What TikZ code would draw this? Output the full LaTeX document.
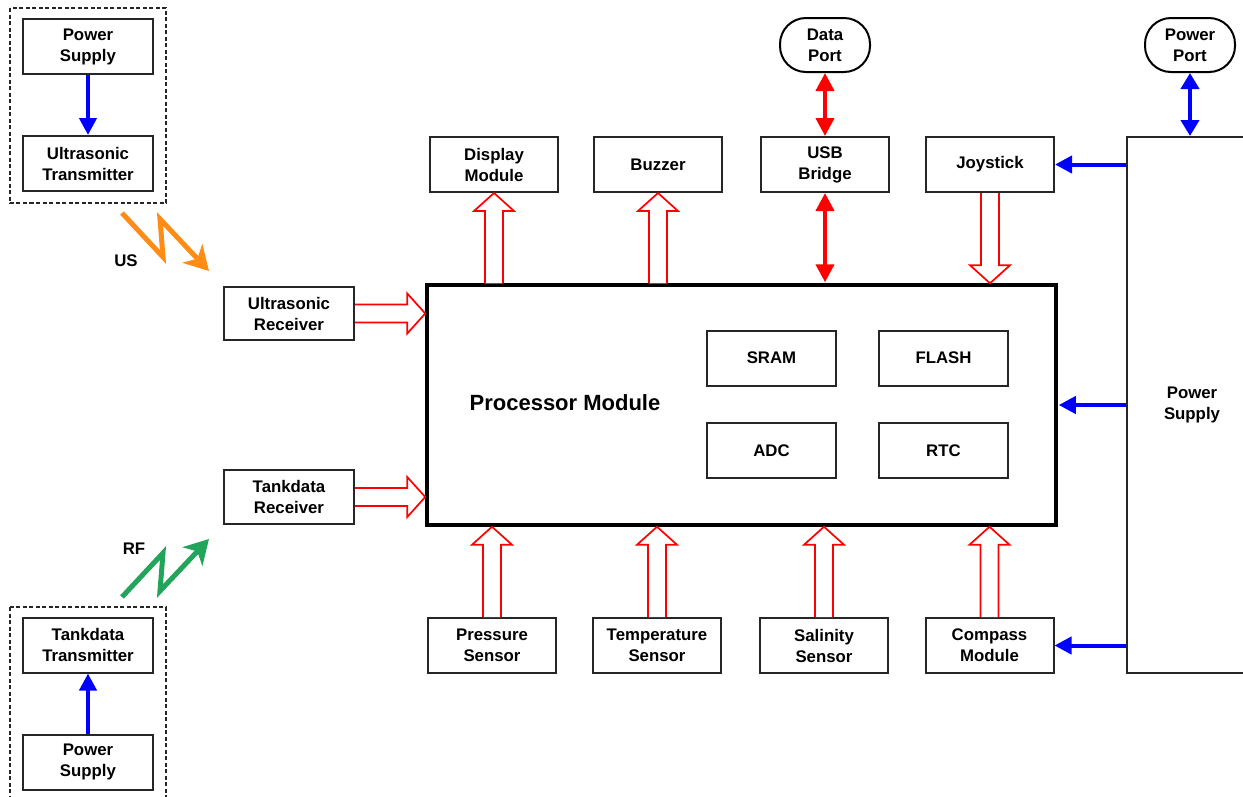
\documentclass[tikz,border=0pt]{standalone}
\usepackage{fontspec}
\setmainfont{Liberation Sans}
\usetikzlibrary{calc,arrows.meta}

\definecolor{usorange}{RGB}{255,140,20}
\definecolor{rfgreen}{RGB}{34,164,90}
\definecolor{pblue}{RGB}{0,0,255}
\definecolor{sred}{RGB}{255,0,0}

% hollow block arrow from tail #1 to tip #2
\newcommand\hollowarr[2]{%
  \coordinate (ha) at (#1);
  \coordinate (hc) at (#2);
  \coordinate (hb) at ($(hc)!18pt!(ha)$);
  \draw[hollowline] ($(ha)!9pt!90:(hc)$) -- ($(hb)!9pt!90:(hc)$) -- ($(hb)!20pt!90:(hc)$)
    -- (hc) -- ($(hb)!20pt!-90:(hc)$) -- ($(hb)!9pt!-90:(hc)$) -- ($(ha)!9pt!-90:(hc)$);
}

\tikzset{
  lbl/.style={font=\bfseries\fontsize{16.8}{21}\selectfont, align=center},
  box/.style={lbl, draw=black!85, line width=2pt, fill=white, inner sep=0pt,
    minimum width=129pt, minimum height=55pt},
  portbox/.style={lbl, draw=black, line width=2pt, fill=white, inner sep=0pt,
    minimum width=90pt, minimum height=54pt, rounded corners=26pt},
  groupbox/.style={draw=black!85, line width=2pt, dash pattern=on 4pt off 2.5pt},
  hollowline/.style={draw=sred, line width=1.7pt, fill=white, line join=miter},
  powerarr/.style={draw=pblue, line width=4pt, -{Triangle[length=17pt,width=17pt]}},
  powerdbl/.style={draw=pblue, line width=4pt, {Triangle[length=16pt,width=18pt]}-{Triangle[length=16pt,width=18pt]}},
  datadbl/.style={draw=sred, line width=4pt, {Triangle[length=18pt,width=18pt]}-{Triangle[length=18pt,width=18pt]}},
  bolt/.style={line width=5pt, line join=miter, miter limit=4,
    -{Stealth[length=24pt,width=27pt,inset=7pt]}},
}

\begin{document}
\begin{tikzpicture}[x=1pt,y=-1pt]
\path[use as bounding box, clip] (0,0) rectangle (1243,796);
\fill[white] (0,0) rectangle (1243,796);

% transmitter groups
\draw[groupbox] (10,8) rectangle (166,203);
\draw[groupbox] (10,607) rectangle (166,820);

\node[box, minimum width=130pt] (tps) at (88,46.5) {Power\\Supply};
\node[box, minimum width=130pt] (utx) at (88,163.5) {Ultrasonic\\Transmitter};
\node[box, minimum width=130pt] (ttx) at (88,645) {Tankdata\\Transmitter};
\node[box, minimum width=130pt] (bps) at (88,762) {Power\\Supply};

\draw[powerarr] (tps.south) -- (utx.north);
\draw[powerarr] (bps.north) -- (ttx.south);

% wireless links
\draw[bolt, usorange] (122,213) -- (163,257) -- (160,219) -- (209,271);
\draw[bolt, rfgreen] (122,597) -- (163,553) -- (160,591) -- (209,539);
\node[lbl] (uslbl) at (126,261) {US};
\node[lbl] (rflbl) at (134,549) {RF};

% receivers
\node[box, minimum width=130pt, minimum height=53pt] (urx) at (289,313.5) {Ultrasonic\\Receiver};
\node[box, minimum width=130pt, minimum height=54pt] (trx) at (289,497) {Tankdata\\Receiver};

% processor
\node[draw=black, line width=3.5pt, fill=white, minimum width=629pt, minimum height=240pt,
  inner sep=0pt] (pm) at (741.5,405) {};
\node[font=\bfseries\fontsize{22}{26}\selectfont] (pmlbl) at (565,403) {Processor Module};
\node[box] (sram) at (771.5,358) {SRAM};
\node[box] (flash) at (943.5,358) {FLASH};
\node[box] (adc) at (771.5,450.5) {ADC};
\node[box] (rtc) at (943.5,450.5) {RTC};

% top row
\node[box, minimum width=128pt] (disp) at (494,164.5) {Display\\Module};
\node[box, minimum width=128pt] (buzz) at (658,164.5) {Buzzer};
\node[box, minimum width=128pt] (usb) at (825,164.5) {USB\\Bridge};
\node[box, minimum width=128pt] (joy) at (990,164.5) {Joystick};
\node[portbox] (dport) at (825,45) {Data\\Port};
\node[portbox] (pport) at (1190,45) {Power\\Port};

% bottom row
\node[box, minimum width=128pt] (pres) at (492,645.5) {Pressure\\Sensor};
\node[box, minimum width=128pt] (temp) at (657,645.5) {Temperature\\Sensor};
\node[box, minimum width=128pt] (sal) at (824,645.5) {Salinity\\Sensor};
\node[box, minimum width=128pt] (comp) at (989.5,645.5) {Compass\\Module};

% main power supply
\node[box, minimum width=130pt, minimum height=536pt] (bigps) at (1192,405) {Power\\Supply};

% power distribution
\draw[powerarr] (bigps.west |- joy.east) -- (joy.east);
\draw[powerarr] (bigps.west |- pm.east) -- ([xshift=1pt]pm.east);
\draw[powerarr] (bigps.west |- comp.east) -- (comp.east);
\draw[powerdbl] (pport.south) -- (pport.south |- bigps.north);

% data link
\draw[datadbl] (dport.south) -- (usb.north);
\draw[datadbl] (usb.south) -- ([yshift=1pt]usb.south |- pm.north);

% signal flow
\hollowarr{disp.south |- pm.north}{disp.south}
\hollowarr{buzz.south |- pm.north}{buzz.south}
\hollowarr{joy.south}{joy.south |- pm.north}
\hollowarr{urx.east}{urx.east -| pm.west}
\hollowarr{trx.east}{trx.east -| pm.west}
\hollowarr{pres.north}{pres.north |- pm.south}
\hollowarr{temp.north}{temp.north |- pm.south}
\hollowarr{sal.north}{sal.north |- pm.south}
\hollowarr{comp.north}{comp.north |- pm.south}
\end{tikzpicture}
\end{document}
